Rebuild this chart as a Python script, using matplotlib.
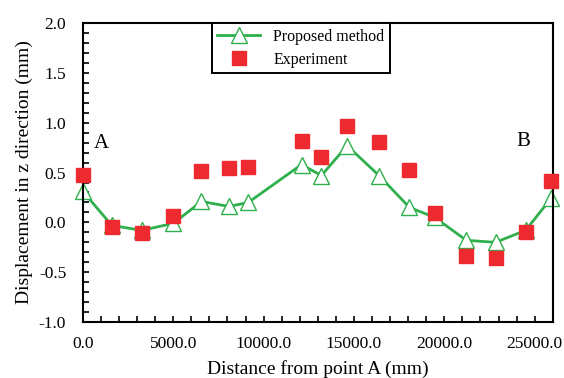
from matplotlib import pyplot as plt
from matplotlib.ticker import MultipleLocator, FormatStrFormatter

plt.rcParams['font.family'] = ['Liberation Serif', 'DejaVu Serif']
plt.rcParams['axes.unicode_minus'] = False

# distance from point A (mm)
dist = [0, 1600, 3250, 5000, 6560, 8080, 9150, 12100, 13200,
        14620, 16390, 18070, 19470, 21220, 22840, 24500, 25900]
# proposed method displacement (mm)
proposed = [0.31, -0.03, -0.08, -0.01, 0.21, 0.16, 0.20, 0.58, 0.47,
            0.77, 0.47, 0.15, 0.05, -0.18, -0.20, -0.08, 0.24]
# experiment displacement (mm)
experiment = [0.48, -0.05, -0.11, 0.06, 0.52, 0.55, 0.555, 0.815, 0.66,
              0.965, 0.81, 0.53, 0.09, -0.34, -0.36, -0.10, 0.42]

green = '#2fb04d'
red = '#ec2a30'

fig = plt.figure(figsize=(5.64, 3.78), dpi=100)
ax = fig.add_axes([0.147, 0.148, 0.833, 0.791])

ax.plot(dist, proposed, color=green, lw=2.0, marker='^', ms=12,
        mfc='white', mec=green, mew=1.0, label='Proposed method',
        zorder=2, clip_on=False)
ax.plot(dist, experiment, ls='none', marker='s', ms=10.5, mfc=red,
        mec=red, label='Experiment', zorder=3, clip_on=False)

ax.set_xlim(0, 26000)
ax.set_ylim(-1.0, 2.0)
ax.xaxis.set_major_locator(MultipleLocator(5000))
ax.xaxis.set_minor_locator(MultipleLocator(1000))
ax.yaxis.set_major_locator(MultipleLocator(0.5))
ax.yaxis.set_minor_locator(MultipleLocator(0.1))
ax.xaxis.set_major_formatter(FormatStrFormatter('%.1f'))
ax.yaxis.set_major_formatter(FormatStrFormatter('%.1f'))
ax.tick_params(which='both', direction='in', length=4, width=1.2,
               top=False, right=False, labelsize=12.5)
ax.tick_params(axis='x', pad=10)
ax.tick_params(axis='y', pad=12)
for s in ax.spines.values():
    s.set_linewidth(1.5)

ax.set_xlabel('Distance from point A (mm)', fontsize=14, labelpad=6)
ax.set_ylabel('Displacement in z direction (mm)', fontsize=14, labelpad=4)

ax.text(1000, 0.79, 'A', fontsize=15, ha='center', va='center')
ax.text(24400, 0.81, 'B', fontsize=15, ha='center', va='center')

leg = ax.legend(loc='upper left', bbox_to_anchor=(0.274, 1.0),
                borderaxespad=0, fontsize=11.5, fancybox=False,
                edgecolor='black', framealpha=1, handlelength=2.7,
                borderpad=0.35, labelspacing=0.45)
leg.get_frame().set_linewidth(1.4)

fig.savefig('out.png', dpi=100)
